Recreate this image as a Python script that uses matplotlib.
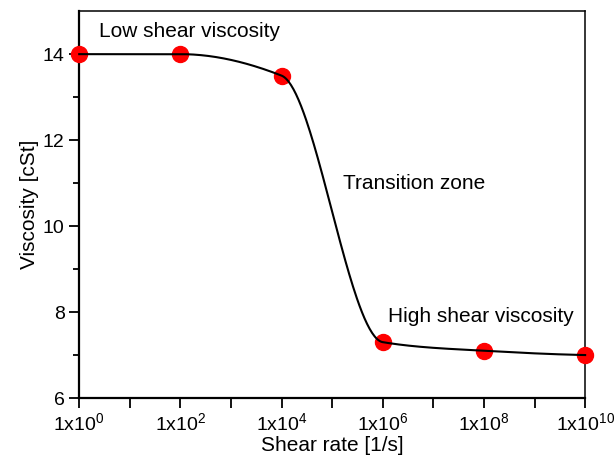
#!/usr/bin/env python3
"""Viscosity vs shear rate curve with low/high shear plateaus."""

import numpy as np
import matplotlib.pyplot as plt
from matplotlib.ticker import FixedLocator, FuncFormatter

plt.rcParams["font.family"] = ["Liberation Sans", "DejaVu Sans"]
plt.rcParams["mathtext.default"] = "regular"

shear_rate = [1e0, 1e2, 1e4, 1e6, 1e8, 1e10]
viscosity = [14.0, 14.0, 13.5, 7.3, 7.1, 7.0]

x_major = [1e0, 1e2, 1e4, 1e6, 1e8, 1e10]
x_minor = [1e1, 1e3, 1e5, 1e7, 1e9]


def pchip(x, y, n=400):
    # monotone cubic Hermite (Fritsch-Carlson) through the points
    x = np.asarray(x, float)
    y = np.asarray(y, float)
    h = np.diff(x)
    d = np.diff(y) / h
    k = len(x)
    m = np.zeros(k)
    for i in range(1, k - 1):
        if d[i - 1] * d[i] > 0:
            w1 = 2 * h[i] + h[i - 1]
            w2 = h[i] + 2 * h[i - 1]
            m[i] = (w1 + w2) / (w1 / d[i - 1] + w2 / d[i])

    def end_slope(h0, h1, d0, d1):
        s = ((2 * h0 + h1) * d0 - h0 * d1) / (h0 + h1)
        if np.sign(s) != np.sign(d0):
            s = 0.0
        elif np.sign(d0) != np.sign(d1) and abs(s) > abs(3 * d0):
            s = 3 * d0
        return s

    m[0] = end_slope(h[0], h[1], d[0], d[1])
    m[-1] = end_slope(h[-1], h[-2], d[-1], d[-2])

    xs = np.linspace(x[0], x[-1], n)
    idx = np.clip(np.searchsorted(x, xs) - 1, 0, k - 2)
    hh = h[idx]
    t = (xs - x[idx]) / hh
    h00 = 2 * t**3 - 3 * t**2 + 1
    h10 = t**3 - 2 * t**2 + t
    h01 = -2 * t**3 + 3 * t**2
    h11 = t**3 - t**2
    ys = h00 * y[idx] + h10 * hh * m[idx] + h01 * y[idx + 1] + h11 * hh * m[idx + 1]
    return xs, ys


fig, ax = plt.subplots(figsize=(6.14, 4.65), dpi=100)
fig.subplots_adjust(left=0.129, right=0.953, top=0.976, bottom=0.144)

lx, ly = pchip(np.log10(shear_rate), viscosity)
ax.plot(shear_rate, viscosity, "o", color="#ff0000", markersize=11.5,
        clip_on=False, zorder=3)
ax.plot(10**lx, ly, color="black", lw=1.5, clip_on=False, zorder=4)

ax.set_xscale("log")
ax.set_xlim(1e0, 1e10)
ax.set_ylim(6, 15)

ax.xaxis.set_major_locator(FixedLocator(x_major))
ax.xaxis.set_minor_locator(FixedLocator(x_minor))
ax.xaxis.set_major_formatter(FuncFormatter(
    lambda v, pos: r"1x10$^{%d}$" % round(np.log10(v))))
ax.xaxis.set_minor_formatter(FuncFormatter(lambda v, pos: ""))
ax.set_yticks([6, 8, 10, 12, 14])
ax.set_yticks([7, 9, 11, 13], minor=True)

ax.tick_params(axis="both", which="major", direction="out", length=7,
               width=1.3, labelsize=14, top=False, right=False)
ax.tick_params(axis="x", which="minor", direction="out", length=7, width=1.3,
               top=False)
ax.tick_params(axis="y", which="minor", direction="out", length=4, width=1.3,
               right=False)

for side in ["left", "bottom"]:
    ax.spines[side].set_linewidth(1.6)
for side in ["top", "right"]:
    ax.spines[side].set_linewidth(1.1)

ax.set_xlabel("Shear rate [1/s]", fontsize=15, labelpad=1)
ax.set_ylabel("Viscosity [cSt]", fontsize=15, labelpad=3)

ax.text(10**0.4, 14.53, "Low shear viscosity", fontsize=15, va="center")
ax.text(10**5.22, 10.98, "Transition zone", fontsize=15, va="center")
ax.text(10**6.1, 7.9, "High shear viscosity", fontsize=15, va="center")

fig.savefig("out.png", dpi=100)
